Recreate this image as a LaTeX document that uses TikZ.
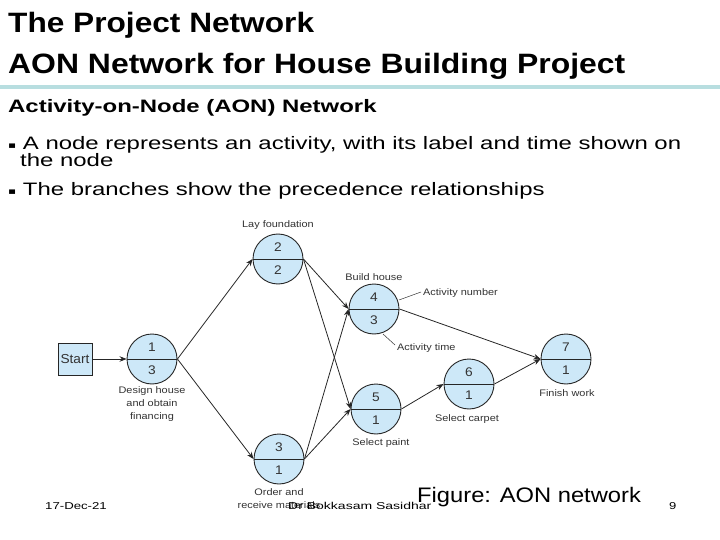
\documentclass[tikz,border=0pt]{standalone}
\usepackage{fontspec}
\usepackage{graphicx}
\setmainfont{Liberation Sans}
\newfontfamily\dvs{DejaVu Sans}
\usetikzlibrary{arrows.meta}
\definecolor{nodefill}{HTML}{CDE8F8}
\definecolor{barcol}{HTML}{B8DEE0}
\definecolor{lblcol}{HTML}{333333}
\newcommand{\hstr}[2]{\scalebox{#1}[1]{#2}}
\newcommand{\bul}{\raisebox{1.5pt}{\dvs\fontsize{9}{9}\selectfont ▪}}
\tikzset{
  act/.style={circle,draw=black!85,line width=0.9pt,fill=nodefill,minimum size=50pt,inner sep=0pt},
  lbl/.style={font=\fontsize{9.5}{13}\selectfont,text=lblcol,align=center,inner sep=0pt},
  num/.style={font=\fontsize{12.5}{13}\selectfont,text=lblcol,inner sep=0pt},
  arr/.style={line width=0.8pt,black!85,-{Stealth[length=7pt,width=5.5pt]}},
  lead/.style={line width=0.5pt,black!80},
  txt/.style={anchor=base west,inner sep=0pt},
}
\begin{document}
\begin{tikzpicture}[x=1pt,y=-1pt]
\useasboundingbox (0,0) rectangle (720,540);
% titles
\node[txt,font=\fontsize{28}{30}\selectfont\bfseries] (t1) at (8,33) {\hstr{1.13}{The Project Network}};
\node[txt,font=\fontsize{28}{30}\selectfont\bfseries] (t2) at (8,74) {\hstr{1.14}{AON Network for House Building Project}};
\fill[barcol] (0,85) rectangle (720,89);
\node[txt,font=\fontsize{18}{20}\selectfont\bfseries] (sub) at (8,113) {\hstr{1.33}{Activity-on-Node (AON) Network}};
\node[txt,font=\fontsize{18}{20}\selectfont] (b1) at (8,150) {\hstr{1.33}{\bul\ A node represents an activity, with its label and time shown on}};
\node[txt,font=\fontsize{18}{20}\selectfont] (b1b) at (20,167) {\hstr{1.33}{the node}};
\node[txt,font=\fontsize{18}{20}\selectfont] (b2) at (8,196) {\hstr{1.33}{\bul\ The branches show the precedence relationships}};
% nodes
\node[draw=black!85,line width=0.9pt,fill=nodefill,minimum width=34pt,minimum height=32pt,inner sep=0pt,font=\fontsize{13}{13}\selectfont,text=lblcol] (start) at (75,359) {\hstr{1.05}{Start}};
\foreach \n/\x/\y/\a/\t in {d/152/359/1/3, l/278/259/2/2, b/374/309/4/3, o/279/459/3/1, p/376/409/5/1, c/469/384/6/1, f/566/359/7/1}{
  \node[act] (\n) at (\x,\y) {};
  \draw[line width=0.9pt,black!85] (\n.west) -- (\n.east);
  \node[num] at (\x,\y-12) {\hstr{1.1}{\a}};
  \node[num] at (\x,\y+11) {\hstr{1.1}{\t}};
}
% labels
\node[lbl,anchor=base] (ll) at (278,228) {\hstr{1.15}{Lay foundation}};
\node[lbl,anchor=base] (bl) at (374,280) {\hstr{1.15}{Build house}};
\node[lbl,anchor=north] (dl) at (152,386) {\hstr{1.15}{Design house}\\\hstr{1.15}{and obtain}\\\hstr{1.15}{financing}};
\node[lbl,anchor=north] (ol) at (279,488) {\hstr{1.15}{Order and}\\\hstr{1.15}{receive materials}};
\node[lbl,anchor=base] (pl) at (381,445) {\hstr{1.15}{Select paint}};
\node[lbl,anchor=base] (cl) at (467,421) {\hstr{1.15}{Select carpet}};
\node[lbl,anchor=base] (fl) at (567,396) {\hstr{1.15}{Finish work}};
\node[lbl,anchor=base west] (an) at (423,295) {\hstr{1.15}{Activity number}};
\node[lbl,anchor=base west] (at) at (397,350) {\hstr{1.15}{Activity time}};
\coordinate (an0) at (399,300);
\coordinate (an1) at (421,292);
\coordinate (at0) at (383,334);
\coordinate (at1) at (395,345);
\draw[lead] (an0) -- (an1);
\draw[lead] (at0) -- (at1);
% edges
\draw[arr] (start.east) -- (d.west);
\draw[arr] (d.east) -- (l.west);
\draw[arr] (d.east) -- (o.west);
\draw[arr] (l.east) -- (b.west);
\draw[arr] (l.east) -- (p.west);
\draw[arr] (o.east) -- (b.west);
\draw[arr] (o.east) -- (p.west);
\draw[arr] (b.east) -- (f.west);
\draw[arr] (p.east) -- (c.west);
\draw[arr] (c.east) -- (f.west);
% footer
\node[txt,font=\fontsize{10}{12}\selectfont] (date) at (45,509) {\hstr{1.32}{17-Dec-21}};
\node[txt,font=\fontsize{10}{12}\selectfont] (auth) at (288,509) {\hstr{1.4}{Dr Bokkasam Sasidhar}};
\node[txt,font=\fontsize{21}{23}\selectfont] (fig) at (417,502) {\hstr{1.13}{Figure: AON network}};
\node[txt,font=\fontsize{10}{12}\selectfont] (pg) at (669,509) {\hstr{1.3}{9}};
\end{tikzpicture}
\end{document}
